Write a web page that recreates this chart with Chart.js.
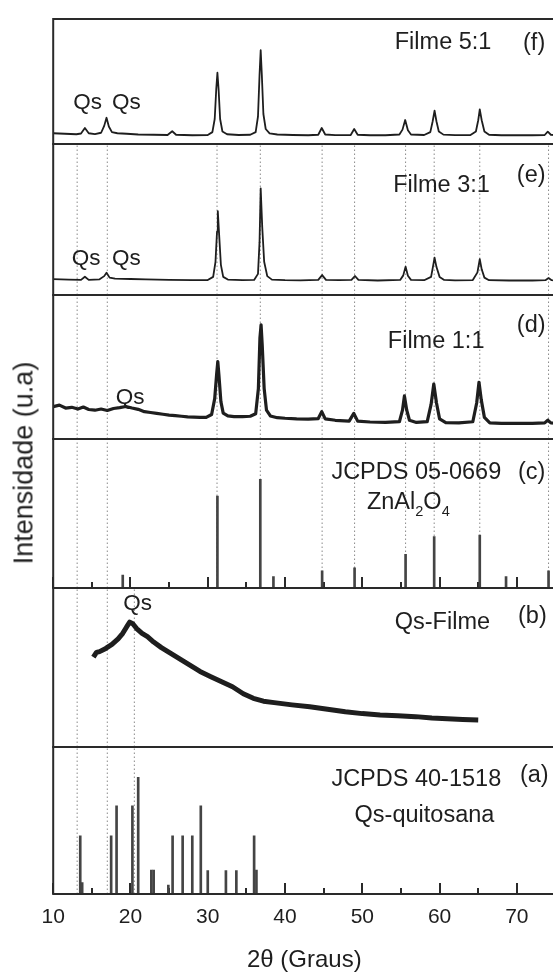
<!DOCTYPE html>
<html>
<head>
<meta charset="utf-8">
<script src="https://cdn.jsdelivr.net/npm/chart.js@4.4.1/dist/chart.umd.min.js"></script>
<style>
  html, body { margin: 0; padding: 0; background: #fff; overflow: hidden; }
  #fig { position: relative; width: 553px; height: 973px; overflow: hidden; }
  #fig canvas { position: absolute; left: 0; }
  #ylabel {
    position: absolute; left: 24px; top: 463px;
    transform: translate(-50%, -50%) rotate(-90deg);
    font: 27px 'Liberation Sans', Arial, sans-serif; color: #222; white-space: nowrap;
  }
</style>
</head>
<body>
<div id="fig">
  <canvas id="pf"></canvas>
  <canvas id="pe"></canvas>
  <canvas id="pd"></canvas>
  <canvas id="pc"></canvas>
  <canvas id="pb"></canvas>
  <canvas id="pa"></canvas>
  <div id="ylabel">Intensidade (u.a)</div>
</div>
<script>
// ── data (2θ in degrees, intensity in % of panel height) ──────────
const fX = [10, 11.5, 13, 13.6, 14.1, 14.6, 15.4, 16.2, 16.6, 16.9, 17.2, 17.6, 18.3, 19.5, 21, 23, 24.8, 25.4, 25.9, 28, 30,
  30.6, 30.9, 31.1, 31.25, 31.4, 31.6, 31.9, 32.5, 34, 35.5, 36.2, 36.5, 36.7, 36.85, 37, 37.2, 37.5, 38, 39, 41, 43,
  44.3, 44.75, 45.2, 46.5, 48.5, 48.95, 49.4, 51, 53, 54.8, 55.2, 55.55, 55.9, 56.3, 58, 58.8, 59.1, 59.35, 59.6, 59.9,
  60.5, 62, 64, 64.7, 65, 65.2, 65.45, 65.8, 66.4, 68, 70, 72, 73.6, 74, 74.4, 75];
const fY = [8.6, 8.2, 7.8, 8.4, 12.8, 8.6, 7.9, 9, 14.5, 21, 14, 9.5, 8.6, 8.2, 7.6, 7.4, 7.2, 10.2, 7.4, 7, 7.2,
  9.5, 20, 44, 57, 44, 20, 10, 7.8, 7.2, 7.4, 9.5, 22, 55, 75, 55, 24, 12, 8.5, 7.6, 7.2, 7,
  7.4, 12.8, 7.6, 7.1, 7.2, 12, 7.4, 7, 7, 7.6, 11.5, 19.2, 11, 7.6, 7.2, 9.5, 18, 26.6, 18, 10,
  7.5, 7.1, 7.2, 10, 19, 27.7, 19, 10, 7.4, 7, 7, 7, 7.2, 9.9, 7.4, 7.1];

const eX = [10, 12, 13.6, 14.1, 14.6, 16, 16.6, 16.9, 17.3, 18, 20, 22, 25, 28, 30, 30.7, 31, 31.2, 31.3, 31.45, 31.7,
  32, 32.6, 34.5, 36, 36.5, 36.7, 36.85, 37.05, 37.3, 37.7, 38.3, 40, 42, 44.3, 44.8, 45.3, 47, 48.6, 49.05, 49.5,
  52, 54.9, 55.3, 55.6, 55.9, 56.3, 58, 58.9, 59.15, 59.35, 59.6, 60, 60.6, 62, 64.3, 64.9, 65.2, 65.45, 65.8, 66.4,
  69, 72, 73.7, 74.1, 74.5, 75];
const eY = [10.5, 10.2, 10, 12.1, 10, 10.4, 12.5, 14.8, 11.5, 10.8, 10.6, 10.3, 10, 9.8, 9.9, 12, 22, 42, 55.6, 42, 20,
  12, 10.2, 9.8, 10, 14, 35, 70.6, 45, 22, 12.5, 10.2, 9.8, 9.7, 10, 13.2, 10, 9.8, 10, 12.6, 10,
  9.6, 10, 13, 18.8, 12.8, 10, 9.8, 12, 19, 24.7, 18.5, 12, 10, 9.7, 9.9, 15, 23.8, 17, 11.5, 9.8,
  9.6, 9.6, 9.8, 11.2, 9.8, 9.6];

const dX = [10, 10.8, 11.6, 12.4, 13.2, 13.9, 14.6, 15.4, 16.2, 17, 17.8, 18.6, 19.4, 20.2, 21, 21.8, 22.6, 23.4,
  24.2, 25, 25.8, 26.6, 27.4, 28.2, 29, 29.8, 30.5, 30.9, 31.15, 31.3, 31.45, 31.7, 32, 32.6, 33.4, 34.5, 35.5,
  36.2, 36.55, 36.75, 36.9, 37.05, 37.3, 37.6, 38.1, 39, 40, 41.5, 43, 44.3, 44.75, 45.2, 46.5, 48.3, 48.9, 49.4,
  51, 53, 54.8, 55.2, 55.45, 55.75, 56.1, 57, 58.4, 58.9, 59.25, 59.6, 60, 60.8, 62.5, 64.3, 64.8, 65.1, 65.4,
  65.8, 66.5, 68, 70, 72, 73.6, 74, 74.4, 75];
const dY = [22.5, 23.5, 21.5, 22, 20.8, 22.2, 20.5, 20, 20.8, 19.8, 21.2, 21.8, 22.6, 21.5, 20.6, 19, 18.4, 17.8,
  17.2, 16.6, 16.2, 15.8, 15.4, 15.2, 15, 15, 17, 28, 45, 53.7, 44, 26, 18, 16, 15.6, 15.6, 15.8,
  17.5, 35, 70, 79.2, 65, 35, 20, 16, 14.8, 14.4, 14, 13.8, 14.2, 19, 14, 13, 12.4, 17.8, 12.4,
  11.8, 11.5, 12, 20, 29.9, 20, 13, 11.5, 12, 24, 38.2, 25, 14, 11.4, 11.2, 12, 25, 39.4, 27,
  15, 11.2, 10.9, 10.8, 10.9, 11.2, 13, 11.2, 11];

// JCPDS 05-0669 (ZnAl2O4) reference lines
const cPeakX = [19.0, 31.25, 36.8, 38.5, 44.8, 49.0, 55.6, 59.3, 65.2, 68.6, 74.1];
const cPeakY = [8.7, 61.7, 72.9, 7.6, 11.6, 13.6, 22.6, 34.5, 35.6, 7.6, 11.6];

const bX = [15.2, 15.6, 16, 16.8, 17.6, 18.4, 19, 19.5, 19.9, 20.3, 20.8, 21.5, 22.2, 23, 24, 25, 26, 27, 28, 29,
  30.4, 31.8, 33.2, 34.6, 35.9, 37.2, 38.6, 40.9, 43.2, 45.5, 47.8, 50, 52.3, 54.6, 56.9, 59, 61, 63, 65];
const bY = [56.5, 59.5, 60, 62, 64.5, 68, 71.5, 75.5, 78.5, 77.5, 74.5, 71.5, 69.4, 66, 62.5, 59.5, 56.5, 53.5, 50.5, 47.5,
  44.2, 41, 37.9, 33.5, 30.6, 28.8, 27.9, 26.5, 25.3, 23.8, 22.2, 21, 20.1, 19.6, 19.1, 18.3, 17.8, 17.3, 17];

// JCPDS 40-1518 (quitosana) reference lines
const aPeakX = [13.5, 13.75, 17.5, 18.2, 20.25, 21.0, 22.7, 23.0, 24.9, 25.45, 26.75, 28.0, 29.1, 30.0, 32.35, 33.7, 36.0, 36.3];
const aPeakY = [39.5, 7.7, 39.5, 59.9, 59.9, 79.4, 16.3, 16.3, 6, 39.5, 39.5, 39.5, 59.9, 15.9, 15.9, 15.9, 39.5, 16.3];

const znGuides = [31.2, 36.8, 44.8, 49.0, 55.6, 59.3, 65.2, 74.1];
const qsGuides = [13.1, 17.0];
const qsGuidesLow = [13.1, 17.0, 20.5];

const xMajorTicks = [10, 20, 30, 40, 50, 60, 70];
const xMinorTicks = [15, 25, 35, 45, 55, 65];

// ── layout ─────────────────────────────────────────────────────────
const X_MIN = 10, X_MAX = 75;
const CANVAS_W = 560, PLOT_LEFT = 53.2, PLOT_RIGHT = 555.5;
const FIG_H = 973, AXIS_H = 79;
const FONT = "'Liberation Sans', Arial, sans-serif";
const INK = '#1e1e1e';

const framePlugin = {
  id: 'frame',
  afterDatasetsDraw(chart) {
    const { ctx, chartArea: a } = chart;
    ctx.save();
    ctx.strokeStyle = '#2a2a2a';
    ctx.lineWidth = 2;
    ctx.strokeRect(a.left, a.top, a.right - a.left, a.bottom - a.top);
    ctx.restore();
  }
};

// panel annotations, placed in data units
const labelPlugin = {
  id: 'panelLabels',
  afterDraw(chart, args, opts) {
    const { ctx, scales } = chart;
    (opts.items || []).forEach(item => {
      let px = scales.x.getPixelForValue(item.x);
      const py = scales.y.getPixelForValue(item.y);
      const size = item.size || 23.5;
      ctx.save();
      ctx.fillStyle = INK;
      ctx.textBaseline = 'middle';
      ctx.textAlign = 'left';
      (item.parts || [{ t: item.text }]).forEach(p => {
        const s = p.sub ? size * 0.62 : size;
        ctx.font = s + 'px ' + FONT;
        ctx.fillText(p.t, px, py + (p.sub ? size * 0.42 : 0));
        px += ctx.measureText(p.t).width;
      });
      ctx.restore();
    });
  }
};

function toPoints(xs, ys) {
  return xs.map((x, i) => ({ x, y: ys[i] }));
}

function trace(xs, ys, width) {
  return {
    type: 'line', xAxisID: 'x', yAxisID: 'y', data: toPoints(xs, ys), borderColor: INK, borderWidth: width,
    pointRadius: 0, tension: 0, borderJoinStyle: 'round', order: 0,
  };
}

function sticks(xs, ys) {
  return {
    type: 'bar', xAxisID: 'x', yAxisID: 'y', data: toPoints(xs, ys),
    backgroundColor: '#444', barThickness: 2, order: 1,
  };
}

function guides(list) {
  return list.map(x => ({
    type: 'line', xAxisID: 'x', yAxisID: 'y', data: [{ x, y: 0 }, { x, y: 100 }], borderColor: '#8a8a8a',
    borderWidth: 1, borderDash: [1.5, 2.5], pointRadius: 0, order: 5,
  }));
}

function tickAxis(values, len, weight, extra) {
  return Object.assign({
    type: 'linear', min: X_MIN, max: X_MAX, position: 'bottom', weight, offset: false,
    border: { display: false },
    grid: { offset: false, drawOnChartArea: false, drawTicks: true, tickLength: -len, color: '#2a2a2a', lineWidth: 2 },
    ticks: { display: false },
    afterBuildTicks: s => { s.ticks = values.map(v => ({ value: v })); },
    afterFit: s => { s.height = 0; },
  }, extra || {});
}

// axisMode: null (no ticks), 'inner' (inward ticks only), 'full' (ticks + labels + title)
function renderPanel(canvasId, top, bottom, datasets, items, axisMode) {
  const canvas = document.getElementById(canvasId);
  if (!canvas) return;
  const full = axisMode === 'full';
  const y0 = top - 2;
  canvas.width = CANVAS_W;
  canvas.height = (full ? FIG_H : bottom + 2) - y0;
  canvas.style.top = y0 + 'px';

  const scales = {};
  if (!axisMode) {
    scales.x = { type: 'linear', display: false, min: X_MIN, max: X_MAX, offset: false };
  } else {
    scales.x = tickAxis(xMajorTicks, 11, 1, full ? {
      ticks: { display: true, padding: 22, color: INK, font: { family: FONT, size: 21 } },
      title: { display: true, text: '2θ (Graus)', color: INK, font: { family: FONT, size: 24, lineHeight: 1 }, padding: { top: 0, bottom: 1 } },
      afterFit: s => { s.height = AXIS_H; },
    } : {});
    scales.xMinor = tickAxis(xMinorTicks, 6, 0);
  }
  scales.y = { display: false, min: 0, max: 100 };

  return new Chart(canvas, {
    type: 'line',
    data: { datasets },
    options: {
      responsive: false,
      animation: false,
      events: [],
      layout: { padding: { left: PLOT_LEFT, right: CANVAS_W - PLOT_RIGHT, top: 2, bottom: full ? 0 : 2 } },
      plugins: { legend: { display: false }, tooltip: { enabled: false }, panelLabels: { items } },
      scales,
    },
    plugins: [framePlugin, labelPlugin],
  });
}

renderPanel('pf', 19, 144, [trace(fX, fY, 1.8)], [
  { text: 'Filme 5:1', x: 54.2, y: 80.8 },
  { text: '(f)', x: 70.8, y: 80 },
  { text: 'Qs', x: 12.6, y: 32.8, size: 22.5 },
  { text: 'Qs', x: 17.6, y: 32.8, size: 22.5 },
]);

renderPanel('pe', 144, 295, [trace(eX, eY, 1.8), ...guides(znGuides), ...guides(qsGuides)], [
  { text: 'Filme 3:1', x: 54.0, y: 72.2 },
  { text: '(e)', x: 70.0, y: 78.8 },
  { text: 'Qs', x: 12.4, y: 23.8, size: 22.5 },
  { text: 'Qs', x: 17.6, y: 23.8, size: 22.5 },
]);

renderPanel('pd', 295, 439, [trace(dX, dY, 3.2), ...guides(znGuides), ...guides(qsGuides)], [
  { text: 'Filme 1:1', x: 53.3, y: 67.4 },
  { text: '(d)', x: 70.0, y: 78.5 },
  { text: 'Qs', x: 18.1, y: 28.8, size: 22.5 },
]);

renderPanel('pc', 439, 588, [sticks(cPeakX, cPeakY), ...guides(znGuides), ...guides(qsGuides)], [
  { text: 'JCPDS 05-0669', x: 46.0, y: 77.5 },
  { text: '(c)', x: 70.15, y: 77.2 },
  { parts: [{ t: 'ZnAl' }, { t: '2', sub: true }, { t: 'O' }, { t: '4', sub: true }], x: 50.6, y: 57.7 },
], 'inner');

renderPanel('pb', 588, 747, [trace(bX, bY, 5), ...guides(qsGuidesLow)], [
  { text: 'Qs', x: 19.05, y: 89.9, size: 22.5 },
  { text: 'Qs-Filme', x: 54.2, y: 78 },
  { text: '(b)', x: 70.15, y: 81.8 },
]);

renderPanel('pa', 747, 894, [sticks(aPeakX, aPeakY), ...guides(qsGuidesLow)], [
  { text: 'JCPDS 40-1518', x: 46.0, y: 77.6 },
  { text: '(a)', x: 70.4, y: 80.3 },
  { text: 'Qs-quitosana', x: 49.0, y: 53.7 },
], 'full');
</script>
</body>
</html>
